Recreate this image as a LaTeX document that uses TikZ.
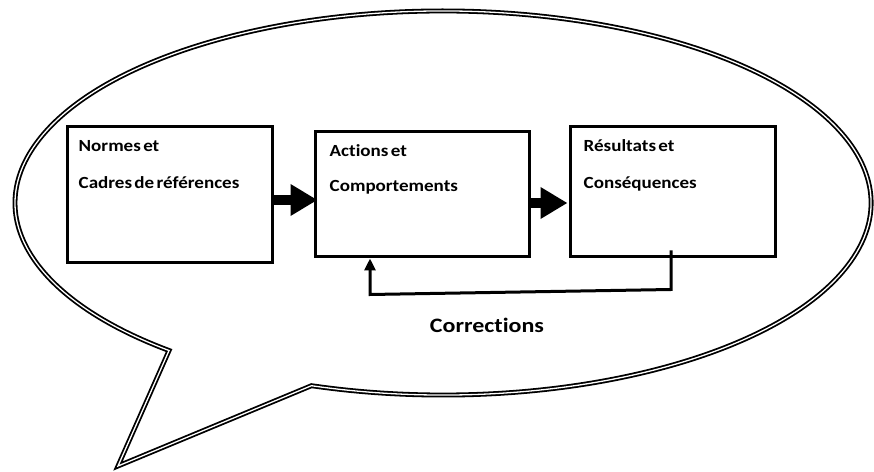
\documentclass[tikz,border=0pt]{standalone}
\usepackage{fontspec}
\setmainfont{Carlito}
\newfontfamily\labelfont{Carlito}[FakeStretch=1.12, WordSpace=0.55, Ligatures=NoCommon]
\newfontfamily\titlefont{Carlito}[FakeStretch=1.17, WordSpace=0.6, Ligatures=NoCommon]
\usetikzlibrary{arrows.meta,calc}
\begin{document}
\begin{tikzpicture}[x=1pt,y=1pt,
  box/.style={draw=black, line width=3pt, minimum width=#1, inner sep=0pt},
  boxtext/.style={anchor=base west, inner sep=0pt, font=\labelfont\fontsize{17}{20}\selectfont\bfseries},
  bigarrow/.style={line width=10pt, -{Triangle[length=27pt,width=30pt]}},
  feedback/.style={line width=3pt, line join=miter, -{Triangle[length=12pt,width=11pt]}},
  bubble/.style={draw=black, fill=white, line width=1.8pt, double=white, double distance=1.3pt, line join=miter}
]
\useasboundingbox (0,0) rectangle (874,471);

% speech bubble: elliptic outline with a tail at the lower left
\path[bubble] (443,268) ++(252.1:428 and 192)
  arc[start angle=252.1, end angle=590.2, x radius=428, y radius=192]
  -- (118,5) -- cycle;

% the three boxes
\node[box=205pt, minimum height=136pt] (b1) at (169.5,276) {};
\node[box=214pt, minimum height=125pt] (b2) at (422,276.5) {};
\node[box=205pt, minimum height=130pt] (b3) at (672.5,279) {};

% labels inside the boxes
\node[boxtext] (t1a) at ($(b1.north west)+(13,-26)$) {Normes et};
\node[boxtext] (t1b) at ($(b1.north west)+(13,-63)$) {Cadres de références};
\node[boxtext] (t2a) at ($(b2.north west)+(16,-26)$) {Actions et};
\node[boxtext] (t2b) at ($(b2.north west)+(16,-61)$) {Comportements};
\node[boxtext] (t3a) at ($(b3.north west)+(15,-26)$) {Résultats et};
\node[boxtext] (t3b) at ($(b3.north west)+(15,-63)$) {Conséquences};

% block arrows between the boxes
\draw[bigarrow] ([yshift=-5pt]b1.east) -- ([xshift=4pt,yshift=-5.5pt]b2.west);
\draw[bigarrow] ([yshift=-8.5pt]b2.east) -- ([xshift=-1pt,yshift=-11pt]b3.west);

% feedback loop from the results back to the actions
\coordinate (fbstart) at ([xshift=-1.5pt,yshift=8pt]b3.south);
\coordinate (fbcorner1) at ([xshift=-1.5pt,yshift=-31pt]b3.south);
\coordinate (fbcorner2) at ([xshift=-52pt,yshift=-36pt]b2.south);
\draw[feedback] (fbstart) -- (fbcorner1) -- (fbcorner2) -- ([xshift=-52pt]b2.south);

\node[anchor=base, inner sep=0pt, font=\titlefont\fontsize{20.5}{24}\selectfont\bfseries] (corr) at (487,138) {Corrections};
\end{tikzpicture}
\end{document}
